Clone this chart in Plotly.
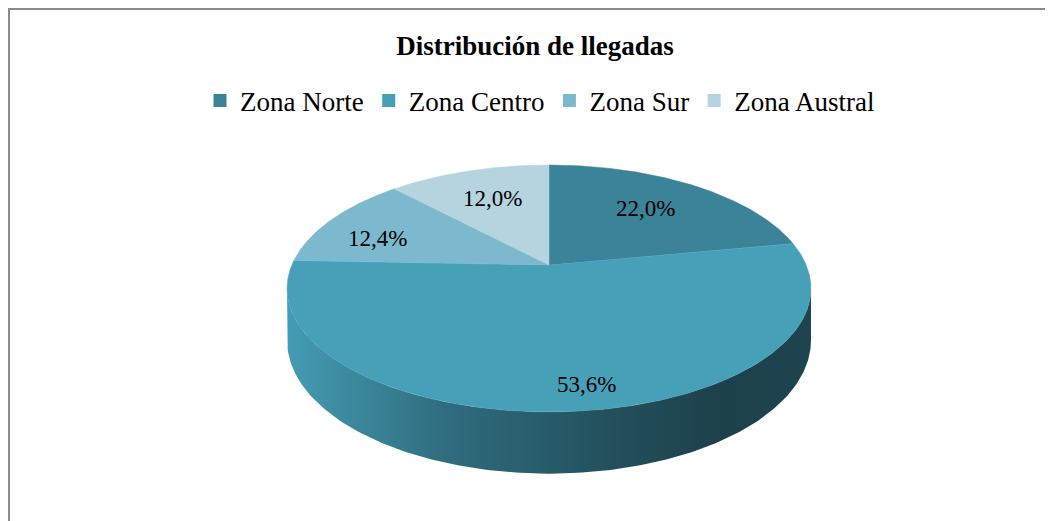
import numpy as np
import plotly.graph_objects as go

# data
ZONES = ["Zona Norte", "Zona Centro", "Zona Sur", "Zona Austral"]
SHARES = [22.0, 53.6, 12.4, 12.0]
COLORS = ["#3B8399", "#46A0B8", "#7DB9CE", "#B5D4DF"]

TITLE = "Distribución de llegadas"

# the page body has an 8px margin; the axes are shifted so that
# data units equal screen pixels of the 1053x521 window
W, H = 1053, 521
OFF = 8
CX, CY = 549, 265          # pie centre (apex of the slices)
RX, RY = 257.2, 119        # radii of the projected disc
K = 0.19                   # perspective strength (far edge shrinks)
DEPTH = 50                 # thickness of the disc
SERIF = "Liberation Serif, Times New Roman, serif"

# label anchors (pixels), one per slice
LABEL_XY = [(645, 208), (586, 384), (377, 238), (492, 198)]
# shading of the side wall, left -> right
SIDE_SHADE = [(0.0, 0.98), (0.1, 0.88), (0.31, 0.68), (0.62, 0.5), (0.83, 0.41), (1.0, 0.43)]


def proj(theta, r=1.0, drop=0.0):
    u = r * np.sin(theta)
    v = r * np.cos(theta)
    d = 1 + K * v
    return CX + RX * u / d, CY - RY * v / d + drop / d


def shade(hex_color, f):
    h = hex_color.lstrip("#")
    rgb = [min(255, int(int(h[i:i + 2], 16) * f)) for i in (0, 2, 4)]
    return f"rgb({rgb[0]},{rgb[1]},{rgb[2]})"


def px_x(x):
    return (x - OFF) / (W - OFF)


def px_y(y):
    return 1 - (y - OFF) / (H - OFF)


fig = go.Figure()

frac = np.array(SHARES) / sum(SHARES)
ends = np.cumsum(frac) * 2 * np.pi
starts = ends - frac * 2 * np.pi

# visible (front) part of the side wall
t_right = np.arccos(-K)
t_left = 2 * np.pi - t_right
for a0, a1, col in zip(starts, ends, COLORS):
    lo, hi = max(a0, t_right), min(a1, t_left)
    if hi <= lo:
        continue
    th = np.linspace(lo, hi, 200)
    xt, yt = proj(th)
    xb, yb = proj(th[::-1], drop=DEPTH)
    fig.add_trace(go.Scatter(
        x=np.concatenate([xt, xb, xt[:1]]),
        y=np.concatenate([yt, yb, yt[:1]]),
        mode="lines",
        line=dict(width=0),
        fill="toself",
        fillcolor=shade(col, 0.6),
        fillgradient=dict(
            type="horizontal",
            colorscale=[[p, shade(col, f)] for p, f in SIDE_SHADE],
        ),
        hoverinfo="skip",
        showlegend=False,
    ))

# top face slices
for zone, share, a0, a1, col in zip(ZONES, SHARES, starts, ends, COLORS):
    th = np.linspace(a0, a1, max(20, int(300 * (a1 - a0))))
    xs, ys = proj(th)
    fig.add_trace(go.Scatter(
        x=np.concatenate([[CX], xs, [CX]]),
        y=np.concatenate([[CY], ys, [CY]]),
        mode="lines",
        line=dict(width=0.5, color=col),
        fill="toself",
        fillcolor=col,
        name=zone,
        hovertemplate=f"{zone}: {share:.1f}%<extra></extra>".replace(".", ","),
        showlegend=False,
    ))

# legend entries
for zone, col in zip(ZONES, COLORS):
    fig.add_trace(go.Scatter(
        x=[None], y=[None],
        mode="markers",
        marker=dict(symbol="square", size=13, color=col),
        name=zone,
    ))

for share, (lx, ly) in zip(SHARES, LABEL_XY):
    fig.add_annotation(
        x=lx, y=ly,
        text=f"{share:.1f}%".replace(".", ","),
        showarrow=False,
        font=dict(family=SERIF, size=23, color="#000000"),
    )

fig.add_shape(
    type="rect", x0=9, y0=9, x1=W + 10, y1=H + 10,
    line=dict(color="#8A8A8A", width=2),
)

fig.update_layout(
    width=W - OFF,
    height=H - OFF,
    paper_bgcolor="white",
    plot_bgcolor="white",
    margin=dict(l=0, r=0, t=0, b=0),
    title=dict(
        text=f"<b>{TITLE}</b>",
        x=px_x(535),
        xanchor="center",
        y=px_y(46),
        yanchor="middle",
        font=dict(family=SERIF, size=27, color="#000000"),
    ),
    legend=dict(
        orientation="h",
        x=px_x(540),
        xanchor="center",
        y=px_y(101),
        yanchor="middle",
        font=dict(family=SERIF, size=27, color="#000000"),
        bgcolor="rgba(0,0,0,0)",
    ),
    xaxis=dict(range=[OFF, W], visible=False, fixedrange=True),
    yaxis=dict(range=[H, OFF], visible=False, fixedrange=True),
)

fig.write_html("out.html")
